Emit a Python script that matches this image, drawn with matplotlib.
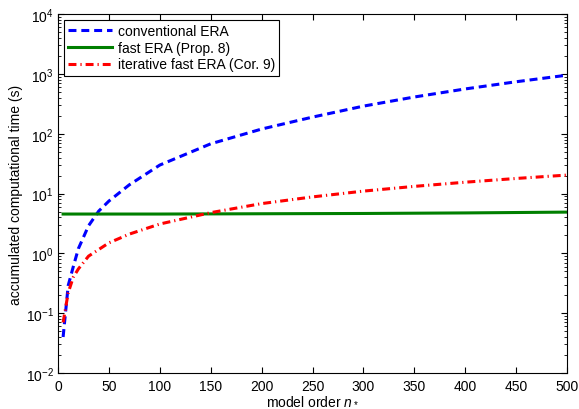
import numpy as np
import matplotlib.pyplot as plt

plt.rcParams['font.family'] = ['Liberation Sans', 'DejaVu Sans']
plt.rcParams['mathtext.fontset'] = 'custom'
plt.rcParams['mathtext.rm'] = 'Liberation Sans'
plt.rcParams['mathtext.it'] = 'Liberation Sans:italic'

# model order
n_conv = [5, 10, 15, 20, 30, 40, 50, 70, 100, 150, 200, 250, 300, 350, 400, 450, 500]
t_conv = [0.04, 0.29, 0.6, 1.2, 2.9, 5.1, 7.5, 14, 30, 68, 120, 190, 290, 412, 562, 741, 955]

n_fast = [5, 100, 200, 300, 400, 500]
t_fast = [4.55, 4.55, 4.6, 4.65, 4.75, 4.9]

n_iter = [5, 10, 15, 20, 30, 50, 70, 100, 150, 200, 250, 300, 350, 400, 450, 500]
t_iter = [0.07, 0.22, 0.4, 0.55, 0.9, 1.5, 2.1, 3.1, 4.8, 6.8, 8.8, 11, 13.2, 15.5, 17.9, 20.4]

fig = plt.figure(figsize=(5.79, 4.10), dpi=100)
ax = fig.add_axes([0.1002, 0.0878, 0.8791, 0.8752])

ax.semilogy(n_conv, t_conv, color='#0000ff', lw=2.2, dashes=(2.6, 1.6), label='conventional ERA')
ax.semilogy(n_fast, t_fast, color='#007f00', lw=2.2, label='fast ERA (Prop. 8)')
ax.semilogy(n_iter, t_iter, color='#ff0000', lw=2.2, dashes=(2.6, 1.3, 0.4, 1.3), label='iterative fast ERA (Cor. 9)')

ax.set_xlim(0, 500)
ax.set_ylim(1e-2, 1e4)
ax.set_xticks(np.arange(0, 501, 50))
ax.tick_params(which='both', direction='in', top=True, right=True, labelsize=10, pad=3)
ax.tick_params(axis='x', pad=4)
ax.tick_params(which='major', length=4)
ax.tick_params(which='minor', length=2)
for s in ax.spines.values():
    s.set_linewidth(0.8)

ax.set_xlabel('model order $n_*$', fontsize=10, labelpad=0)
ax.set_ylabel('accumulated computational time (s)', fontsize=10, labelpad=2)

leg = ax.legend(loc='upper left', fontsize=10, fancybox=False, edgecolor='black',
                framealpha=1, handlelength=3.2, borderaxespad=0.4, labelspacing=0.2,
                handletextpad=0.4, borderpad=0.3)
leg.get_frame().set_linewidth(0.8)

fig.savefig('out.png', dpi=100)
